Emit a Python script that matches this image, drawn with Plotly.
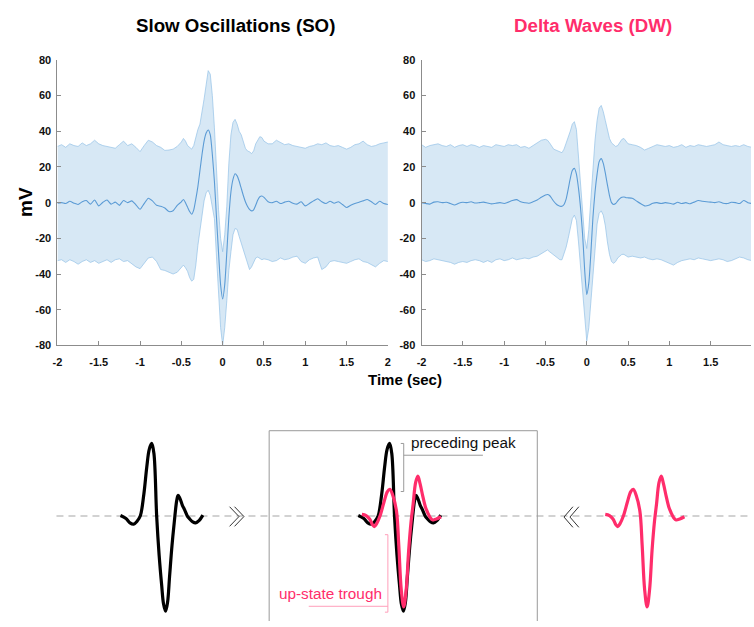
import plotly.graph_objects as go

# ---------------- data ----------------
TIME = [-2.00, -1.95, -1.90, -1.85, -1.80, -1.75, -1.70, -1.65, -1.60, -1.55,
        -1.50, -1.45, -1.40, -1.35, -1.30, -1.25, -1.20, -1.15, -1.10, -1.05,
        -1.00, -0.95, -0.90, -0.85, -0.80, -0.75, -0.70, -0.65, -0.60, -0.55,
        -0.500, -0.475, -0.450, -0.425, -0.400, -0.375, -0.350, -0.325, -0.300, -0.275,
        -0.250, -0.225, -0.200, -0.175, -0.150, -0.125, -0.100, -0.075, -0.050, -0.025,
        0.000, 0.025, 0.050, 0.075, 0.100, 0.125, 0.150, 0.175, 0.200, 0.225,
        0.250, 0.275, 0.300, 0.325, 0.350, 0.375, 0.400, 0.425, 0.450, 0.475, 0.500,
        0.55, 0.60, 0.65, 0.70, 0.75, 0.80, 0.85, 0.90, 0.95, 1.00,
        1.05, 1.10, 1.15, 1.20, 1.25, 1.30, 1.35, 1.40, 1.45, 1.50,
        1.55, 1.60, 1.65, 1.70, 1.75, 1.80, 1.85, 1.90, 1.95, 2.00]

SO_MEAN = [-0.3, 0.0, -0.5, 0.8, -0.3, -1.0, 0.5, 1.2, -0.8, 1.5,
           -1.8, 0.2, 1.5, -0.8, 0.3, -1.5, 1.2, 0.0, 1.0, -1.2,
           -3.7, -0.5, 2.5, 1.0, -1.5, -2.0, -3.0, -5.0, -4.5, -1.5,
           0.5, 1.8, 0.0, -2.5, -5.0, -6.5, -4.0, 2.0, 9.0, 18.0,
           27.0, 34.5, 39.0, 40.7, 38.0, 27.0, 12.0, -8.0, -28.0, -46.0,
           -54.0, -46.0, -28.0, -8.0, 6.0, 13.0, 16.2, 15.0, 12.0, 8.0,
           4.0, 0.5, -2.0, -3.8, -4.6, -4.0, -1.5, 1.5, 3.3, 3.7, 3.0,
           0.5, 0.0, 0.8, -0.5, 0.3, 0.8, -0.3, -0.8, 0.5, -1.8,
           -0.5, 1.0, 2.2, 0.5, -0.5, 0.8, -0.3, 0.5, -1.0, -2.7,
           -1.5, -0.5, 0.2, 1.0, 1.8, 0.5, -1.0, 0.8, -0.5, -1.0]
SO_UPPER = [31.5, 32.5, 31.0, 33.0, 32.0, 31.5, 33.5, 32.0, 33.0, 35.0,
            33.0, 32.0, 31.5, 31.0, 30.5, 32.5, 34.5, 32.0, 33.0, 31.0,
            28.6, 32.0, 35.0, 34.0, 32.0, 31.0, 29.3, 29.5, 30.0, 31.5,
            34.0, 36.0, 34.5, 32.0, 31.0, 30.0, 32.0, 37.0, 41.0, 44.0,
            50.0, 58.0, 66.0, 74.0, 72.0, 60.0, 42.0, 16.0, -4.0, -20.0,
            -27.5, -18.0, -2.0, 22.0, 38.0, 45.0, 46.7, 44.0, 40.0, 38.0,
            34.0, 30.5, 29.0, 28.5, 27.5, 29.0, 33.0, 35.5, 37.0, 36.5, 34.5,
            33.0, 33.0, 35.0, 33.5, 32.5, 33.0, 32.0, 31.5, 31.0, 30.5,
            31.5, 32.0, 33.0, 32.5, 33.5, 32.0, 31.5, 32.0, 31.0, 30.0,
            31.0, 32.5, 33.0, 34.5, 32.5, 31.5, 32.0, 33.0, 33.5, 34.0]
SO_LOWER = [-32.5, -32.0, -33.5, -32.0, -33.0, -34.5, -33.0, -32.0, -33.5, -32.5,
            -34.0, -33.0, -32.0, -33.5, -32.0, -31.5, -33.0, -32.5, -34.0, -36.0,
            -37.0, -34.0, -31.0, -30.5, -33.0, -37.5, -38.0, -39.0, -40.0, -39.0,
            -36.0, -35.0, -36.5, -38.5, -42.0, -44.0, -43.0, -35.0, -24.0, -14.5,
            -6.0, 1.0, 5.5, 7.0, 4.0, -2.0, -9.0, -30.0, -50.0, -70.0,
            -80.0, -70.0, -55.0, -38.0, -27.5, -18.0, -14.5, -15.0, -19.0, -23.0,
            -27.0, -31.0, -35.0, -37.5, -36.0, -33.0, -31.0, -30.5, -31.5, -32.0, -31.5,
            -32.0, -33.0, -32.5, -31.0, -32.0, -31.5, -30.5, -30.0, -33.0, -34.0,
            -32.0, -31.0, -30.5, -37.5, -36.0, -33.0, -32.5, -33.0, -33.5, -34.0,
            -33.0, -32.0, -31.5, -33.0, -33.5, -35.0, -36.0, -34.0, -32.5, -33.0]

DW_MEAN = [0.0, -0.5, -0.8, 0.3, 0.5, 0.0, 0.2, -0.5, -1.3, -0.3,
           0.2, 0.0, 0.5, -0.2, 0.0, 0.3, -0.2, -0.7, -0.3, 0.0,
           -0.5, 0.3, 1.2, 1.7, 0.5, 0.0, -0.3, 0.5, 1.5, 3.0,
           4.3, 4.6, 4.0, 2.5, 0.8, -0.5, -1.5, -2.0, -2.0, -1.0,
           2.0, 7.5, 13.5, 18.0, 19.2, 16.0, 8.0, -3.0, -18.0, -38.0,
           -51.5, -45.0, -28.0, -8.0, 6.0, 16.0, 23.0, 24.7, 22.0, 16.5,
           10.0, 4.0, 0.0, -1.0, -0.5, 1.0, 2.3, 3.0, 3.2, 2.8, 2.7,
           2.5, 1.0, -0.5, -1.8, -1.5, -0.3, 0.0, -0.5, 0.0, -0.3,
           -0.8, 0.2, -0.5, 0.0, -0.6, 0.3, 1.2, 0.8, 0.5, 0.3,
           0.0, 0.5, -0.3, -0.5, 0.2, 0.0, -0.5, 1.2, 0.0, -0.5]
DW_UPPER = [32.5, 31.0, 32.0, 32.5, 33.0, 32.0, 31.5, 32.5, 31.0, 32.0,
            32.5, 31.5, 32.5, 32.0, 31.0, 32.0, 31.5, 31.0, 32.5, 32.0,
            31.5, 32.5, 32.0, 32.5, 31.0, 31.5, 30.5, 32.0, 33.5, 35.0,
            35.5, 35.0, 33.5, 31.5, 30.0, 29.5, 29.0, 28.5, 28.0, 30.0,
            33.0, 36.0, 40.0, 44.0, 45.4, 41.0, 25.0, 8.0, -8.0, -20.0,
            -25.7, -15.0, 2.0, 22.0, 35.0, 46.0, 53.0, 54.5, 51.0, 46.0,
            41.0, 36.0, 33.5, 32.5, 31.5, 32.0, 33.5, 35.5, 36.0, 34.5, 33.0,
            32.5, 32.0, 31.0, 29.5, 30.5, 31.5, 32.5, 32.0, 31.5, 32.0,
            31.0, 31.5, 32.5, 31.0, 32.0, 31.5, 32.5, 32.0, 31.5, 32.0,
            32.5, 34.0, 32.5, 32.0, 31.5, 32.0, 31.5, 32.5, 31.5, 31.0]
DW_LOWER = [-32.0, -33.0, -32.5, -31.5, -32.0, -32.5, -33.0, -33.5, -34.5, -33.5,
            -33.0, -33.5, -32.5, -32.0, -32.5, -33.5, -32.5, -33.5, -32.0, -31.5,
            -32.5, -32.0, -31.0, -32.0, -31.5, -31.0, -31.5, -30.5, -30.0, -28.5,
            -27.0, -26.5, -27.5, -28.5, -29.0, -30.0, -31.0, -32.0, -32.0, -29.0,
            -25.0, -20.0, -14.0, -9.0, -7.0, -10.0, -22.0, -36.0, -52.0, -68.0,
            -77.5, -70.0, -55.0, -38.0, -22.0, -12.0, -6.0, -4.6, -7.0, -13.0,
            -22.0, -29.0, -33.0, -34.0, -33.0, -31.0, -30.0, -29.0, -29.0, -30.0, -30.5,
            -30.0, -30.5, -31.0, -30.5, -31.5, -32.0, -31.5, -32.0, -33.0, -34.0,
            -35.0, -33.5, -32.5, -32.0, -31.5, -32.0, -31.0, -31.5, -32.0, -32.5,
            -32.0, -31.5, -32.0, -33.0, -32.5, -31.5, -30.5, -31.0, -32.0, -32.5]

X_TICKS = [-2, -1.5, -1, -0.5, 0, 0.5, 1, 1.5, 2]
X_TICK_TEXT = ["-2", "-1.5", "-1", "-0.5", "0", "0.5", "1", "1.5", "2"]
Y_TICKS = [-80, -60, -40, -20, 0, 20, 40, 60, 80]
Y_TICK_TEXT = ["-80", "-60", "-40", "-20", "0", "20", "40", "60", "80"]

# schematic waveform templates (relative time, relative amplitude)
SCHEM_SO_T = [-45.6, -40, -36, -32.3, -29, -25.6, -22, -19, -16.5, -14, -11.8, -9,
              -6.5, -4, -2, 0, 2, 4, 6.5, 9.4, 11.3, 12.7, 14.5, 17, 19.4, 22,
              24.4, 27.5, 30.4, 33.5, 37.7]
SCHEM_SO_A = [0.5, -2.5, -7, -8.3, -5.5, 0, 22, 50, 68, 74, 64, 0,
              -40, -70, -90, -97, -88, -62, -30, 0, 16, 21, 18, 11, 6, 0,
              -3, -6, -7, -5, 1]
SCHEM_DW_T = [-42.3, -38, -34.5, -31.5, -29.7, -27.5, -24, -20, -16.5, -14, -11, -7.3,
              -5, -2.5, 0, 2.5, 5, 7.5, 9.5, 12, 14.3, 16.5, 19.3, 22, 24.3, 27,
              29.3, 33, 37.7]
SCHEM_DW_A = [1.7, 0.5, -3, -9, -10.7, -8, 0, 14, 25, 27.3, 21, 5,
              -30, -75, -92.7, -75, -35, -5, 12, 34, 40.7, 33, 20, 9, 3.3, -2,
              -4, -3, -0.7]

# ---------------- styling ----------------
W, H = 754, 627
FONT = "Liberation Sans, Arial, Helvetica, sans-serif"
PINK = "#ff2d6b"
FILL = "#d7e8f5"
EDGE = "rgba(150,195,232,0.9)"
MEAN_C = "#5b9bd5"
AXC = "#8c8c8c"

fig = go.Figure()


def add_band(xa, ya, up, lo, mean):
    fig.add_trace(go.Scatter(x=TIME, y=up, xaxis=xa, yaxis=ya, mode="lines",
                             line=dict(color=EDGE, width=0.8), hoverinfo="skip",
                             showlegend=False))
    fig.add_trace(go.Scatter(x=TIME, y=lo, xaxis=xa, yaxis=ya, mode="lines",
                             line=dict(color=EDGE, width=0.8), fill="tonexty",
                             fillcolor=FILL, hoverinfo="skip", showlegend=False))
    fig.add_trace(go.Scatter(x=TIME, y=mean, xaxis=xa, yaxis=ya, mode="lines",
                             line=dict(color=MEAN_C, width=1.1, shape="spline", smoothing=0.6),
                             hoverinfo="skip", showlegend=False))


add_band("x", "y", SO_UPPER, SO_LOWER, SO_MEAN)
add_band("x2", "y2", DW_UPPER, DW_LOWER, DW_MEAN)

# schematic waveforms (bottom panel)
def add_wave(t, a, center, color):
    fig.add_trace(go.Scatter(x=[center + v for v in t], y=a, xaxis="x3", yaxis="y3",
                             mode="lines", line=dict(color=color, width=3.2, shape="spline",
                                                     smoothing=1.0),
                             hoverinfo="skip", showlegend=False))

add_wave(SCHEM_SO_T, SCHEM_SO_A, 162.3, "#000000")
add_wave(SCHEM_SO_T, SCHEM_SO_A, 402.7, "#000000")
add_wave(SCHEM_DW_T, SCHEM_DW_A, 403.0, PINK)
add_wave(SCHEM_DW_T, SCHEM_DW_A, 649.0, PINK)

tickfont = dict(family=FONT, size=11, color="#111111", weight="bold")
axis_common = dict(showline=True, linecolor=AXC, linewidth=1, ticks="inside", ticklen=4,
                   tickcolor=AXC, tickwidth=1, showgrid=False, zeroline=False,
                   tickfont=tickfont, fixedrange=True)

ydom = [(H - 346) / H, (H - 55) / H]
fig.update_layout(
    width=W, height=H, margin=dict(l=0, r=0, t=0, b=0),
    paper_bgcolor="white", plot_bgcolor="white", showlegend=False,
    xaxis=dict(domain=[53 / W, 387 / W], range=[-2, 2], tickvals=X_TICKS,
               ticktext=X_TICK_TEXT, anchor="y", ticklabelstandoff=6, **axis_common),
    yaxis=dict(domain=ydom, range=[-80, 80], tickvals=Y_TICKS, ticktext=Y_TICK_TEXT,
               anchor="x", ticklabelstandoff=3, **axis_common),
    xaxis2=dict(domain=[421 / W, 1.0], range=[-2, 1.988], tickvals=X_TICKS[:-1],
                ticktext=X_TICK_TEXT[:-1], anchor="y2", ticklabelstandoff=6, **axis_common),
    yaxis2=dict(domain=ydom, range=[-80, 80], tickvals=Y_TICKS, ticktext=Y_TICK_TEXT,
                anchor="x2", ticklabelstandoff=3, **axis_common),
    xaxis3=dict(domain=[0, 1], range=[0, W], visible=False, anchor="y3", fixedrange=True),
    yaxis3=dict(domain=[0, 207 / H], range=[-107, 100], visible=False, anchor="x3",
                fixedrange=True),
)

ann = []
def paper_text(text, xp, yp, size, color, angle=0):
    ann.append(dict(text=text, x=xp / W, y=1 - yp / H, xref="paper", yref="paper",
                    xanchor="center", yanchor="middle", textangle=angle, showarrow=False,
                    font=dict(family=FONT, size=size, color=color, weight="bold")))

paper_text("Slow Oscillations (SO)", 233, 20, 18.7, "#000000")
paper_text("Delta Waves (DW)", 594, 20, 18.7, PINK)
paper_text("mV", 20, 200, 19, "#000000", angle=-90)
paper_text("Time (sec)", 404, 381, 15, "#000000")
ann.append(dict(text="preceding peak", x=408, y=75, xref="x3", yref="y3", xanchor="left",
                yanchor="middle", showarrow=False, font=dict(family=FONT, size=15.3, color="#111")))
ann.append(dict(text="up-state trough", x=383, y=-79, xref="x3", yref="y3", xanchor="right",
                yanchor="middle", showarrow=False, font=dict(family=FONT, size=15.3, color=PINK)))
fig.update_layout(annotations=ann)

shapes = []
# dashed baseline
shapes.append(dict(type="line", xref="x3", yref="y3", x0=52, x1=754, y0=0, y1=0, layer="below",
                   line=dict(color="#c4c4c4", width=1.6, dash="7px,5px")))
# comparison box
shapes.append(dict(type="path", xref="x3", yref="y3", layer="below",
                   path="M 267 -110 L 267 87 L 538 87 L 538 -110",
                   line=dict(color="#9a9a9a", width=1)))
# brackets
shapes.append(dict(type="path", xref="x3", yref="y3",
                   path="M 400 74 L 403 74 L 403 25 L 400 25",
                   line=dict(color="#9a9a9a", width=1)))
shapes.append(dict(type="line", xref="x3", yref="y3", x0=403, x1=483, y0=62, y1=62,
                   line=dict(color="#9a9a9a", width=1)))
shapes.append(dict(type="path", xref="x3", yref="y3",
                   path="M 384 -19 L 387 -19 L 387 -98 L 384 -98",
                   line=dict(color="#ff9fba", width=1)))
shapes.append(dict(type="line", xref="x3", yref="y3", x0=307, x1=387, y0=-92, y1=-92,
                   line=dict(color="#ff9fba", width=1)))
# chevrons
for p in ["M 227 9.5 L 236.5 -0.5 L 227 -10.5", "M 232 9.5 L 241.5 -0.5 L 232 -10.5",
          "M 574 9.5 L 565 -1 L 574 -11.5", "M 580 9.5 L 571 -1 L 580 -11.5"]:
    shapes.append(dict(type="path", xref="x3", yref="y3", path=p,
                       line=dict(color="#333333", width=1)))
fig.update_layout(shapes=shapes)

fig.write_html("out.html")
